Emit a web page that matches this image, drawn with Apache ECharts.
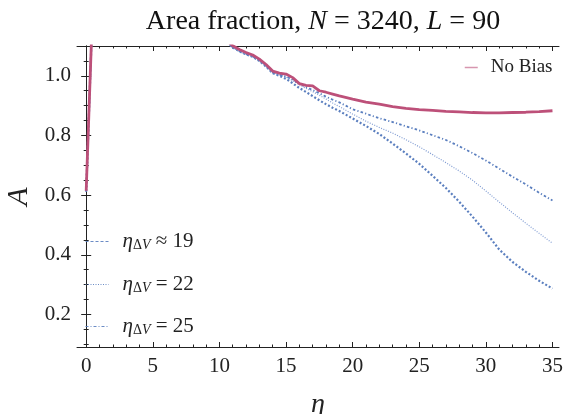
<!DOCTYPE html>
<html>
<head>
<meta charset="utf-8">
<script src="https://cdn.jsdelivr.net/npm/echarts@6/dist/echarts.min.js"></script>
<style>
  html, body { margin: 0; padding: 0; background: #fff; }
  #chart { width: 563px; height: 414px; }
</style>
</head>
<body>
<div id="chart"></div>
<script>
// eta grid shared by all curves
const eta = [0, 0.2, 0.4, 1, 3, 6, 9, 10.5,
  11, 11.5, 12, 12.5, 13, 13.5, 14, 14.5, 15, 15.5, 16, 16.5, 17, 17.5, 18, 18.5, 19,
  20, 21, 22, 23, 24, 25, 26, 27, 28, 29, 30, 31, 32, 33, 34, 35];

// area fraction, no bias (goes off the top of the plot between ~0.4 and ~11)
const noBias = [0.615, 0.87, 1.125, 1.6, 2.2, 2.0, 1.5, 1.12,
  1.101, 1.088, 1.078, 1.070, 1.056, 1.038, 1.016, 1.009, 1.006, 0.994, 0.974, 0.968, 0.966, 0.950, 0.945, 0.939, 0.933,
  0.922, 0.912, 0.905, 0.897, 0.891, 0.887, 0.884, 0.881, 0.879, 0.877, 0.876, 0.876, 0.877, 0.878, 0.880, 0.883];

const bias19 = [0.612, 0.865, 1.12, 1.6, 2.2, 2.0, 1.5, 1.115,
  1.095, 1.082, 1.072, 1.064, 1.050, 1.031, 1.009, 1.000, 0.990, 0.975, 0.959, 0.946, 0.932, 0.918, 0.905, 0.893, 0.882,
  0.857, 0.832, 0.805, 0.773, 0.740, 0.705, 0.665, 0.624, 0.578, 0.528, 0.475, 0.418, 0.376, 0.343, 0.313, 0.287];

const bias22 = [0.612, 0.865, 1.12, 1.6, 2.2, 2.0, 1.5, 1.115,
  1.096, 1.083, 1.073, 1.065, 1.051, 1.033, 1.011, 1.004, 0.996, 0.984, 0.970, 0.958, 0.947, 0.935, 0.922, 0.909, 0.897,
  0.872, 0.848, 0.827, 0.808, 0.786, 0.762, 0.736, 0.709, 0.681, 0.650, 0.614, 0.577, 0.541, 0.506, 0.472, 0.439];

const bias25 = [0.612, 0.865, 1.12, 1.6, 2.2, 2.0, 1.5, 1.115,
  1.096, 1.083, 1.073, 1.065, 1.051, 1.033, 1.011, 1.004, 0.998, 0.987, 0.974, 0.963, 0.952, 0.942, 0.930, 0.920, 0.911,
  0.888, 0.873, 0.858, 0.845, 0.831, 0.817, 0.801, 0.785, 0.764, 0.741, 0.716, 0.689, 0.662, 0.636, 0.608, 0.582];

// ticks
const xMajor = [0, 5, 10, 15, 20, 25, 30, 35];
const xMinor = [1, 2, 3, 4, 6, 7, 8, 9, 11, 12, 13, 14, 16, 17, 18, 19, 21, 22, 23, 24, 26, 27, 28, 29, 31, 32, 33, 34];
const yMajor = [0.2, 0.4, 0.6, 0.8, 1.0];
const yMinor = [0.1, 0.15, 0.25, 0.3, 0.35, 0.45, 0.5, 0.55, 0.65, 0.7, 0.75, 0.85, 0.9, 0.95, 1.05, 1.1];

const FONT = "Liberation Serif";
const PINK = "#bd5079";
const BLUE = "#5b7fbf";
const BLUE_LIGHT = "#7f9bd2";

function zip(ys) {
  return eta.map((x, i) => [x, ys[i]]);
}

const XMIN = -0.69, XMAX = 35.49, YMIN = 0.091, YMAX = 1.1;

function xAx(pos, ticks, len, extra) {
  return Object.assign({
    type: "value", position: pos, min: XMIN, max: XMAX,
    axisLine: { show: false },
    axisTick: { show: true, inside: true, length: len, customValues: ticks, lineStyle: { color: "#222", width: 1 } },
    axisLabel: { show: false },
    splitLine: { show: false }
  }, extra || {});
}
function yAx(pos, ticks, len, extra) {
  return Object.assign({
    type: "value", position: pos, min: YMIN, max: YMAX,
    axisLine: { show: false },
    axisTick: { show: true, inside: true, length: len, customValues: ticks, lineStyle: { color: "#222", width: 1 } },
    axisLabel: { show: false },
    splitLine: { show: false }
  }, extra || {});
}

const subRich = {
  e: { fontFamily: FONT, fontStyle: "italic", fontSize: 21, color: "#222", lineHeight: 22 },
  d: { fontFamily: FONT, fontSize: 14, color: "#222", lineHeight: 14, verticalAlign: "bottom" },
  v: { fontFamily: FONT, fontStyle: "italic", fontSize: 14, color: "#222", lineHeight: 14, verticalAlign: "bottom" },
  r: { fontFamily: FONT, fontSize: 21, color: "#222", lineHeight: 22 }
};

function biasLegend(name, label, top, dash) {
  return {
    data: [name], left: 85, top: top, padding: 0,
    itemWidth: 23, itemHeight: 10,
    itemStyle: { opacity: 0 },
    lineStyle: { width: 1, type: dash, color: BLUE, opacity: 0.9 },
    formatter: function () { return "{e|η}{d|Δ}{v|V}{r|" + label + "}"; },
    textStyle: { padding: [0, 0, 0, 9], rich: subRich }
  };
}

const chart = echarts.init(document.getElementById("chart"), null, { renderer: "canvas" });
chart.setOption({
  animation: false,
  backgroundColor: "#fff",
  textStyle: { fontFamily: FONT },
  title: {
    text: "{r|Area fraction, }{i|N}{r| = 3240, }{i|L}{r| = 90}",
    left: 318, top: 3, textAlign: "center",
    textStyle: {
      fontWeight: "normal",
      rich: {
        r: { fontFamily: FONT, fontSize: 28, fontWeight: "normal", color: "#111" },
        i: { fontFamily: FONT, fontSize: 28, fontWeight: "normal", fontStyle: "italic", color: "#111" }
      }
    }
  },
  grid: { left: 77, right: 4, top: 46, bottom: 67, containLabel: false, outerBoundsMode: "none" },
  legend: [
    {
      data: ["No Bias"], left: 464, top: 58, padding: 0,
      itemWidth: 13, itemHeight: 10,
      itemStyle: { opacity: 0 },
      lineStyle: { width: 1.5, color: PINK, opacity: 0.6 },
      textStyle: { fontFamily: FONT, fontSize: 19, color: "#222", padding: [0, 0, 0, 8] }
    },
    biasLegend("bias19", " ≈ 19", 231, [3, 2]),
    biasLegend("bias22", " = 22", 274, [1, 1.5]),
    biasLegend("bias25", " = 25", 316, [3, 2, 1, 2])
  ],
  xAxis: [
    xAx("bottom", xMajor, 5, {
      axisLine: { show: true, lineStyle: { color: "#222", width: 1 } },
      axisLabel: {
        show: true, customValues: xMajor, margin: 9,
        fontFamily: FONT, fontSize: 21, color: "#222"
      },
      name: "η", nameLocation: "middle", nameGap: 44,
      nameTextStyle: { fontFamily: FONT, fontSize: 28, fontStyle: "italic", color: "#222" }
    }),
    xAx("bottom", xMinor, 2.5),
    xAx("top", xMajor, 5, { axisLine: { show: true, lineStyle: { color: "#222", width: 1 } } }),
    xAx("top", xMinor, 2.5)
  ],
  yAxis: [
    yAx("left", yMajor, 5, {
      axisLine: { show: true, lineStyle: { color: "#222", width: 1 } },
      axisLabel: {
        show: true, customValues: yMajor, margin: 6,
        fontFamily: FONT, fontSize: 21, color: "#222",
        formatter: (v) => v.toFixed(1)
      },
      name: "A", nameLocation: "middle", nameGap: 38, nameRotate: 90,
      nameTextStyle: { fontFamily: FONT, fontSize: 30, fontStyle: "italic", color: "#222" }
    }),
    yAx("left", yMinor, 2.5),
    yAx("right", yMajor, 5, { axisLine: { show: true, lineStyle: { color: "#222", width: 1 } } }),
    yAx("right", yMinor, 2.5)
  ],
  series: [
    {
      name: "bias19", type: "line", data: zip(bias19), symbol: "none", clip: true, z: 2,
      lineStyle: { color: BLUE, width: 2.2, type: [2, 2], cap: "butt" }, itemStyle: { color: BLUE }
    },
    {
      name: "bias22", type: "line", data: zip(bias22), symbol: "none", clip: true, z: 2,
      lineStyle: { color: BLUE_LIGHT, width: 1.2, type: [1, 1.5], cap: "butt" }, itemStyle: { color: BLUE_LIGHT }
    },
    {
      name: "bias25", type: "line", data: zip(bias25), symbol: "none", clip: true, z: 2,
      lineStyle: { color: BLUE, width: 1.8, type: [2.5, 2.2, 1.2, 2.2], cap: "butt" }, itemStyle: { color: BLUE }
    },
    {
      name: "No Bias", type: "line", data: zip(noBias), symbol: "none", clip: true, z: 3,
      lineStyle: { color: PINK, width: 2.8 }, itemStyle: { color: PINK }
    }
  ]
});
</script>
</body>
</html>
